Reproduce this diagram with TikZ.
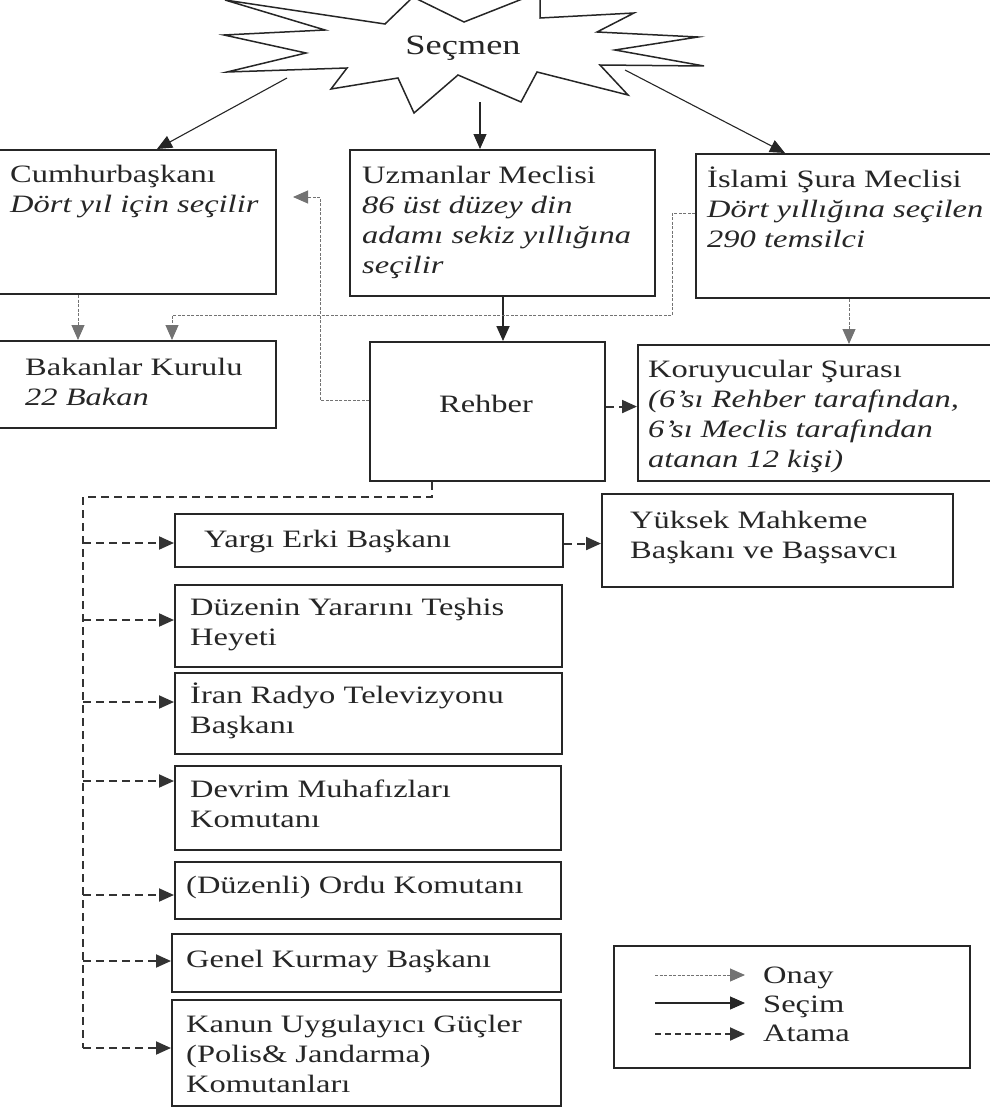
\documentclass[tikz,border=0pt]{standalone}
\usepackage{fontspec}
\setmainfont{Liberation Serif}[FakeStretch=1.3]
\usetikzlibrary{arrows.meta}
\begin{document}
\begin{tikzpicture}[x=1pt,y=-1pt,
  box/.style={draw=black!85, line width=2.1pt, inner sep=0pt, anchor=north west},
  txt/.style={anchor=north west, inner sep=0pt, align=left, text=black!85,
              font=\fontsize{25}{30}\selectfont},
  one/.style={inner sep=0pt, text=black!85, font=\fontsize{25}{30}\selectfont},
  tip/.style={-{Triangle[length=15pt,width=13pt]}},
  secim/.style={tip, line width=1.1pt, draw=black!85},
  onay/.style={tip, line width=1pt, draw=black!55, dash pattern=on 3pt off 1.5pt},
  atamaline/.style={line width=2pt, draw=black!80, dash pattern=on 8pt off 5pt},
  atama/.style={tip, atamaline}]
\useasboundingbox (0,0) rectangle (990,1108);
\clip (0,0) rectangle (990,1108);

% starburst
\draw[line width=1.5pt, draw=black!85, fill=white]
  (225,0) -- (385,24) -- (413,-3) -- (464,22) -- (540,-8) -- (540,18) -- (634,13)
  -- (597,32) -- (698,37) -- (615,50) -- (704,66) -- (600,65) -- (628,95)
  -- (537,72) -- (521,102) -- (458,75) -- (414,113) -- (398,78) -- (331,89)
  -- (347,68) -- (227,72) -- (306,53) -- (224,35) -- (325,30) -- cycle;
\node[one, font=\fontsize{28}{32}\selectfont] (secmen) at (463,48) {Seçmen};
\coordinate (s1) at (287,78);
\coordinate (s2) at (480,102);
\coordinate (s3) at (625,70);

% boxes
\node[box, minimum width=280pt, minimum height=144pt] (cum) at (-5,149) {};
\node[box, minimum width=280pt, minimum height=87pt]  (bak) at (-5,340) {};
\node[box, minimum width=305pt, minimum height=146pt] (uzm) at (349,149) {};
\node[box, minimum width=305pt, minimum height=144pt] (isl) at (695,153) {};
\node[box, minimum width=235pt, minimum height=139pt] (reh) at (369,341) {};
\node[box, minimum width=363pt, minimum height=136pt] (kor) at (637,344) {};
\node[box, minimum width=351pt, minimum height=93pt]  (yuk) at (601,493) {};
\node[box, minimum width=388pt, minimum height=53pt]  (yar) at (174,513) {};
\node[box, minimum width=387pt, minimum height=82pt]  (duz) at (174,584) {};
\node[box, minimum width=387pt, minimum height=81pt]  (iran) at (174,672) {};
\node[box, minimum width=386pt, minimum height=84pt]  (dev) at (174,765) {};
\node[box, minimum width=386pt, minimum height=57pt]  (ord) at (174,861) {};
\node[box, minimum width=389pt, minimum height=58pt]  (gen) at (171,933) {};
\node[box, minimum width=389pt, minimum height=106pt] (kan) at (171,999) {};
\node[box, minimum width=356pt, minimum height=122pt] (leg) at (613,945) {};

% texts
\node[txt] (cumT) at (10,161) {\strut Cumhurbaşkanı\\\textit{Dört yıl için seçilir}};
\node[txt] (uzmT) at (362,162) {\strut Uzmanlar Meclisi\\\textit{86 üst düzey din}\\\textit{adamı sekiz yıllığına}\\\textit{seçilir}};
\node[txt] (islT) at (707,166) {\strut İslami Şura Meclisi\\\textit{Dört yıllığına seçilen}\\\textit{290 temsilci}};
\node[txt] (bakT) at (25,354) {\strut Bakanlar Kurulu\\\textit{22 Bakan}};
\node[one, anchor=base] (rehT) at (486,412) {Rehber};
\node[txt] (korT) at (648,356) {\strut Koruyucular Şurası\\\textit{(6'sı Rehber tarafından,}\\\textit{6'sı Meclis tarafından}\\\textit{atanan 12 kişi)}};
\node[txt] (yukT) at (630,507) {\strut Yüksek Mahkeme\\Başkanı ve Başsavcı};
\node[txt] (yarT) at (204,526) {\strut Yargı Erki Başkanı};
\node[txt] (duzT) at (190,594) {\strut Düzenin Yararını Teşhis\\Heyeti};
\node[txt] (iranT) at (190,682) {\strut İran Radyo Televizyonu\\Başkanı};
\node[txt] (devT) at (190,776) {\strut Devrim Muhafızları\\Komutanı};
\node[txt] (ordT) at (186,872) {\strut (Düzenli) Ordu Komutanı};
\node[txt] (genT) at (186,946) {\strut Genel Kurmay Başkanı};
\node[txt] (kanT) at (186,1011) {\strut Kanun Uygulayıcı Güçler\\(Polis\& Jandarma)\\Komutanları};

% Seçim arrows
\draw[secim] (s1) -- ([xshift=162pt]cum.north west);
\draw[secim] (s2) -- ([xshift=131pt]uzm.north west);
\draw[secim] (s3) -- ([xshift=90pt]isl.north west);
\draw[secim, line width=1.8pt] ([xshift=154pt]uzm.south west) -- ([xshift=154pt]uzm.south west |- reh.north);

% Onay arrows
\coordinate (cumarr) at (293,197);
\draw[onay] ([xshift=83pt]cum.south west) -- ([xshift=83pt]bak.north west);
\draw[onay] ([yshift=-60pt]isl.north west) -- ++(-23,0) |- ([xshift=177pt,yshift=25pt]bak.north west) -- ([xshift=177pt]bak.north west);
\draw[onay] ([yshift=-59pt]reh.north west) -- ++(-49,0) |- (cumarr);
\draw[onay] ([xshift=154pt]isl.south west) -- ([xshift=154pt]isl.south west |- kor.north);

% Atama arrows
\draw[atama] ([yshift=5pt]reh.east) -- ([yshift=5pt]reh.east -| kor.west);
\draw[atama] ([yshift=-3pt]yar.east) -- ([yshift=-3pt]yar.east -| yuk.west);
\coordinate (bus) at (83,497);
\coordinate (kanend) at ([yshift=-49pt]kan.north west);
\draw[atamaline] ([xshift=63pt]reh.south west) |- (bus) -- (bus |- kanend);
\foreach \n/\d in {yar/30, duz/36, iran/30, dev/16, ord/34, gen/28, kan/49}{
  \path ([yshift=-\d pt]\n.north west) coordinate (tgt);
  \draw[atama] (bus |- tgt) -- (tgt);
}

% legend
\coordinate (l1a) at (655,975); \coordinate (l1b) at (745,975);
\coordinate (l2a) at (655,1003); \coordinate (l2b) at (745,1003);
\coordinate (l3a) at (655,1034); \coordinate (l3b) at (745,1034);
\draw[onay] (l1a) -- (l1b);
\draw[secim] (l2a) -- (l2b);
\draw[atama, dash pattern=on 6pt off 4pt] (l3a) -- (l3b);
\node[one, anchor=base west] (lo) at (763,983) {Onay};
\node[one, anchor=base west] (ls) at (763,1012) {Seçim};
\node[one, anchor=base west] (lt) at (763,1041) {Atama};
\end{tikzpicture}
\end{document}
